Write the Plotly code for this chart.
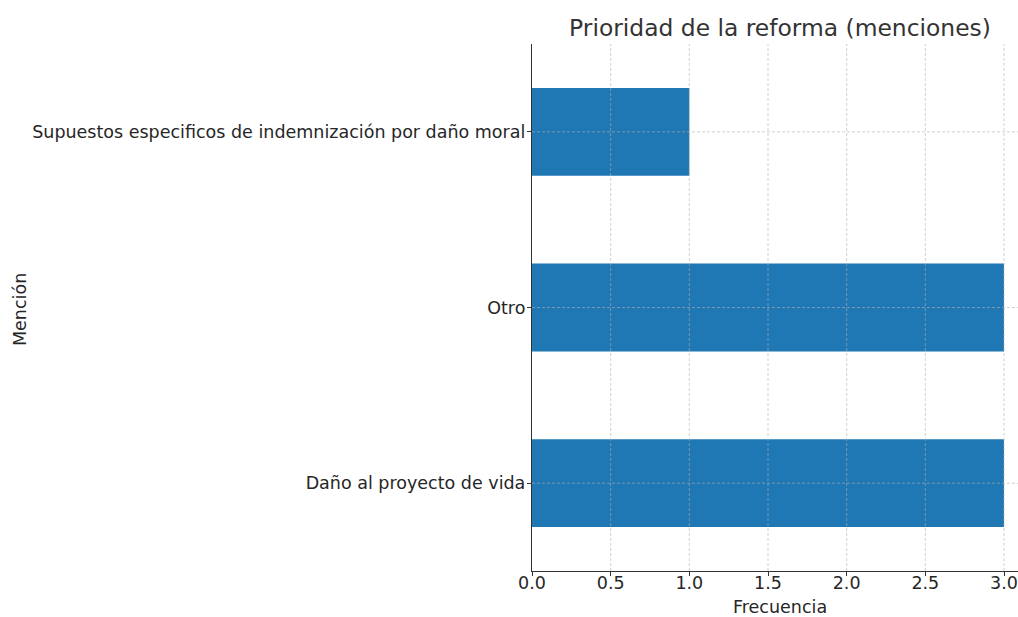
import plotly.graph_objects as go

categories = ["Daño al proyecto de vida", "Otro", "Supuestos especificos de indemnización por daño moral"]
values = [3, 3, 1]
x_ticks = [0.0, 0.5, 1.0, 1.5, 2.0, 2.5, 3.0]
x_tick_labels = ["0.0", "0.5", "1.0", "1.5", "2.0", "2.5", "3.0"]

FONT = "DejaVu Sans"
TXT = "#262626"
GRID = "rgba(176,176,176,0.6)"
W, H = 1018, 617
L, R, T, B = 532, 1018, 44, 571

fig = go.Figure(go.Bar(
    y=categories, x=values, orientation="h",
    marker=dict(color="#1f77b4", line=dict(width=0)),
    width=0.5,
))

fig.update_layout(
    width=W, height=H,
    margin=dict(l=L, r=W - R, t=T, b=H - B, autoexpand=False),
    paper_bgcolor="white", plot_bgcolor="white",
    font=dict(family=FONT, size=17.5, color=TXT),
    showlegend=False,
    title=dict(text="Prioridad de la reforma (menciones)", x=780 / W, xanchor="center",
               y=1 - 28 / H, yanchor="middle", font=dict(size=23.4, color="#333333"),
               automargin=False),
)

fig.update_xaxes(
    range=[0, 3.089], tickvals=x_ticks, ticktext=x_tick_labels,
    showline=True, linecolor="#333333", linewidth=1.3,
    ticks="outside", ticklen=4, tickcolor="#333333", tickwidth=1,
    showgrid=False, zeroline=False, automargin=False, ticklabelstandoff=-8,
    ticklabeloverflow="allow", layer="above traces",
    tickfont=dict(size=17.5, color=TXT),
)
fig.update_yaxes(
    range=[-0.5, 2.5], type="category",
    showline=True, linecolor="#333333", linewidth=1.3,
    ticks="outside", ticklen=4, tickcolor="#333333", tickwidth=1,
    showgrid=False, zeroline=False, automargin=False, ticklabelstandoff=-2,
    layer="above traces",
    tickfont=dict(size=17.5, color=TXT),
)

# dashed grid drawn above the bars, as in the reference
for xv in x_ticks[1:]:
    fig.add_shape(type="line", xref="x", yref="paper", x0=xv, x1=xv, y0=0, y1=1,
                  line=dict(color=GRID, width=1, dash="3px,2px"), layer="above")
for cat in categories:
    fig.add_shape(type="line", xref="paper", yref="y", x0=0, x1=1, y0=cat, y1=cat,
                  line=dict(color=GRID, width=1, dash="3px,2px"), layer="above")

pw, ph = R - L, B - T
fig.add_annotation(text="Mención", textangle=-90, x=(20 - L) / pw, y=(B - 310) / ph,
                   xref="paper", yref="paper", xanchor="center", yanchor="middle",
                   showarrow=False, font=dict(size=17.5, color=TXT))
fig.add_annotation(text="Frecuencia", x=(780 - L) / pw, y=(B - 607) / ph,
                   xref="paper", yref="paper", xanchor="center", yanchor="middle",
                   showarrow=False, font=dict(size=17.5, color=TXT))

fig.write_html(
    "out.html",
    config={"displayModeBar": False},
    post_script="document.body.style.margin='0';document.body.style.overflow='hidden';",
)
